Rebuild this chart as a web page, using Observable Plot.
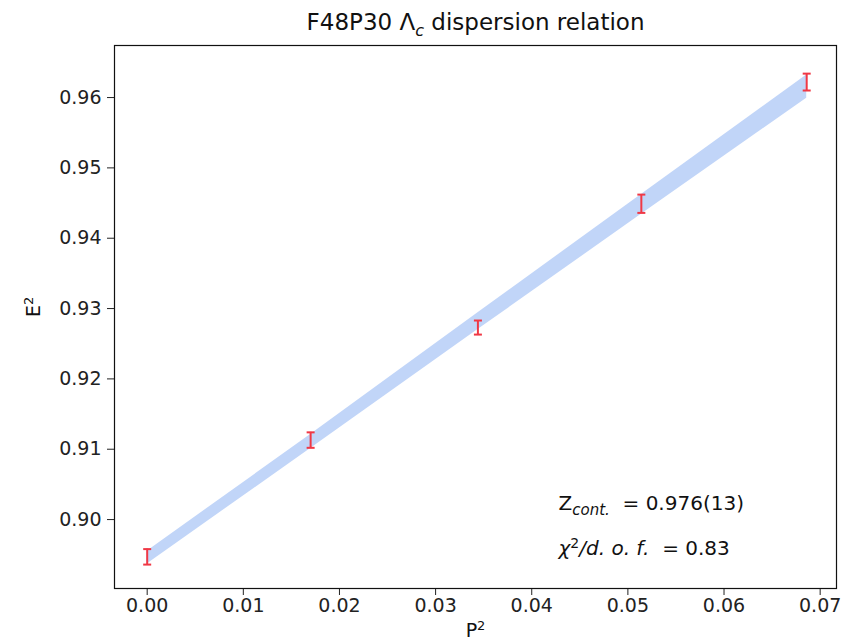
<!DOCTYPE html>
<html>
<head>
<meta charset="utf-8">
<script src="https://cdn.jsdelivr.net/npm/d3@7"></script>
<script src="https://cdn.jsdelivr.net/npm/@observablehq/plot@0.6"></script>
<style>
  html, body { margin: 0; padding: 0; background: #fff; }
</style>
</head>
<body>
<div id="chart"></div>
<script>
// Data points (P^2, E^2, error)
const P2 = [0.0, 0.0170, 0.0344, 0.0514, 0.0686];
const E2 = [0.8947, 0.9113, 0.9273, 0.9449, 0.9622];
const E2err = [0.0011, 0.0011, 0.0010, 0.0013, 0.0012];

// Fit band
const bandP2 = [0.0, 0.0170, 0.0343, 0.0514, 0.0686];
const bandLow = [0.8937, 0.9101, 0.9269, 0.9434, 0.9599];
const bandHigh = [0.8955, 0.9121, 0.9293, 0.9462, 0.9632];

const xTicks = [0.00, 0.01, 0.02, 0.03, 0.04, 0.05, 0.06, 0.07];
const yTicks = [0.90, 0.91, 0.92, 0.93, 0.94, 0.95, 0.96];

const points = P2.map((p, i) => ({p, e: E2[i], lo: E2[i] - E2err[i], hi: E2[i] + E2err[i]}));
const band = bandP2.map((p, i) => ({p, lo: bandLow[i], hi: bandHigh[i]}));

const capSymbol = { draw(ctx, size) { ctx.moveTo(-4, 0); ctx.lineTo(4, 0); } };
const red = "#f03845";

const plot = Plot.plot({
  width: 841,
  height: 642,
  marginLeft: 114,
  marginRight: 5,
  marginTop: 45,
  marginBottom: 54,
  style: { fontFamily: "DejaVu Sans", fontSize: "19px", color: "#222", background: "#fff" },
  x: { domain: [-0.0034, 0.0717], ticks: xTicks, tickFormat: ".2f", tickSize: 7, tickPadding: 3, label: null },
  y: { domain: [0.8902, 0.9674], ticks: yTicks, tickFormat: ".2f", tickSize: 7, tickPadding: 6, label: null },
  marks: [
    Plot.areaY(band, { x: "p", y1: "lo", y2: "hi", fill: "#6495ed", fillOpacity: 0.4 }),
    Plot.ruleX(points, { x: "p", y1: "lo", y2: "hi", stroke: red, strokeWidth: 2 }),
    Plot.dot(points, { x: "p", y: "lo", symbol: capSymbol, stroke: red, strokeWidth: 2, r: 4 }),
    Plot.dot(points, { x: "p", y: "hi", symbol: capSymbol, stroke: red, strokeWidth: 2, r: 4 }),
    Plot.frame({ stroke: "#111", strokeWidth: 1.2 }),
    Plot.text(["@title"], { frameAnchor: "top", dy: -23, lineAnchor: "middle", fontSize: 23, fill: "#111" }),
    Plot.text(["@xlabel"], { frameAnchor: "bottom", dy: 42, lineAnchor: "middle", fontSize: 19, fill: "#111" }),
    Plot.text(["@ylabel"], { frameAnchor: "left", dx: -81, rotate: -90, lineAnchor: "middle", fontSize: 19, fill: "#111" }),
    Plot.text(["@zcont"], { frameAnchor: "bottom-left", dx: 444, dy: -85, textAnchor: "start", lineAnchor: "middle", fontSize: 20, fill: "#111" }),
    Plot.text(["@chi"], { frameAnchor: "bottom-left", dx: 444, dy: -40, textAnchor: "start", lineAnchor: "middle", fontSize: 20, fill: "#111" })
  ]
});

function rich(key, html) {
  for (const t of plot.querySelectorAll("text")) {
    if (t.textContent === key) { t.innerHTML = html; return; }
  }
}
rich("@title", 'F48P30 Λ<tspan dy="6" font-size="16" font-style="italic">c</tspan><tspan dy="-6"> dispersion relation</tspan>');
rich("@xlabel", 'P<tspan dy="-7" font-size="13">2</tspan>');
rich("@ylabel", 'E<tspan dy="-7" font-size="13">2</tspan>');
rich("@zcont", 'Z<tspan dy="5" font-size="15" font-style="italic">cont.</tspan><tspan dy="-5" xml:space="preserve">  = 0.976(13)</tspan>');
rich("@chi", '<tspan font-style="italic">χ</tspan><tspan dy="-7" font-size="14">2</tspan><tspan dy="7" font-style="italic">/d. o. f.</tspan><tspan xml:space="preserve">  = 0.83</tspan>');

document.getElementById("chart").appendChild(plot);
</script>
</body>
</html>
